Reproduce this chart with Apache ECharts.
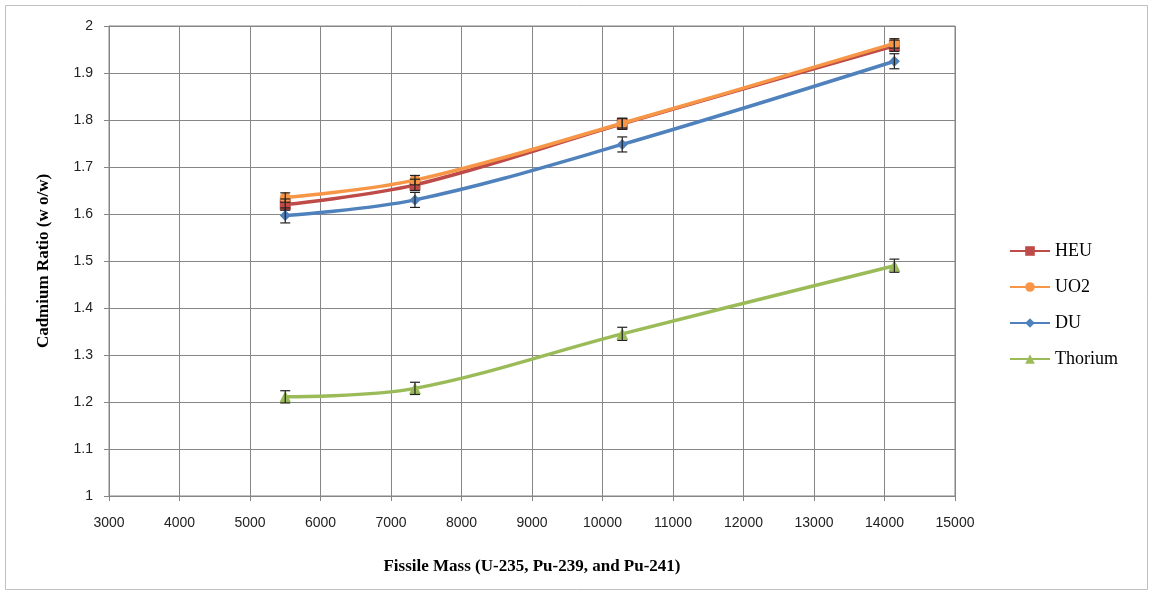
<!DOCTYPE html>
<html><head><meta charset="utf-8">
<script src="https://cdn.jsdelivr.net/npm/echarts@6/dist/echarts.min.js"></script>
<style>html,body{margin:0;padding:0;background:#fff}#c{width:1153px;height:594px}</style>
</head><body><div id="c"></div>
<script>
const fissileMass = [5500, 7340, 10280, 14140];
const heu = [1.620, 1.662, 1.792, 1.958];
const uo2 = [1.635, 1.672, 1.793, 1.963];
const du = [1.597, 1.630, 1.748, 1.925];
const thorium = [1.211, 1.229, 1.345, 1.490];
const errDU = [0.016, 0.016, 0.016, 0.016];
const errTh = [0.013, 0.013, 0.014, 0.014];
const errHEU = [0.012, 0.012, 0.012, 0.012];
const errUO2 = [0.010, 0.010, 0.010, 0.010];
const yTicks = ['1','1.1','1.2','1.3','1.4','1.5','1.6','1.7','1.8','1.9','2'];

const names = ['HEU','UO2','DU','Thorium'];
const colors = ['#BE4B48','#F79646','#4F81BD','#9BBB59'];
const symbols = ['rect','circle','diamond','triangle'];
const vals = [heu, uo2, du, thorium];
const errs = [errHEU, errUO2, errDU, errTh];

const series = [];
names.forEach((n, i) => {
  series.push({
    name: n, type: 'line', smooth: 0.35,
    data: fissileMass.map((x, k) => [x, vals[i][k]]),
    symbol: symbols[i], symbolSize: i === 3 ? 12 : 11,
    lineStyle: {width: 3.5, color: colors[i]},
    itemStyle: {color: colors[i]},
    z: 3 + i
  });
  series.push({
    type: 'custom', name: n + ' err', silent: true, z: 10,
    data: fissileMass.map((x, k) => [x, vals[i][k] - errs[i][k], vals[i][k] + errs[i][k]]),
    renderItem: function (params, api) {
      const lo = api.coord([api.value(0), api.value(1)]);
      const hi = api.coord([api.value(0), api.value(2)]);
      const w = 5;
      const st = {stroke: '#222', lineWidth: 1.2};
      return {type: 'group', children: [
        {type: 'line', shape: {x1: lo[0], y1: lo[1], x2: hi[0], y2: hi[1]}, style: st},
        {type: 'line', shape: {x1: lo[0]-w, y1: lo[1], x2: lo[0]+w, y2: lo[1]}, style: st},
        {type: 'line', shape: {x1: hi[0]-w, y1: hi[1], x2: hi[0]+w, y2: hi[1]}, style: st}
      ]};
    }
  });
});

const chart = echarts.init(document.getElementById('c'));
chart.setOption({
  animation: false,
  backgroundColor: '#fff',
  graphic: [{type: 'rect', shape: {x: 5.5, y: 5.5, width: 1142, height: 584}, style: {fill: 'none', stroke: '#bfbfbf', lineWidth: 1}}],
  grid: {left: 109, right: 198, top: 26, bottom: 98, show: true, borderColor: '#868686', borderWidth: 1},
  xAxis: {
    type: 'value', min: 3000, max: 15000, interval: 1000,
    name: 'Fissile Mass (U-235, Pu-239, and Pu-241)', nameLocation: 'middle', nameGap: 62,
    nameTextStyle: {fontFamily: 'Liberation Serif', fontWeight: 'bold', fontSize: 17, color: '#000'},
    axisLine: {lineStyle: {color: '#868686'}},
    axisTick: {show: true, length: 5, lineStyle: {color: '#868686'}},
    axisLabel: {color: '#222', fontFamily: 'Liberation Sans', fontSize: 14, margin: 20,
      formatter: function (v) { return String(v); }},
    splitLine: {lineStyle: {color: '#868686'}}
  },
  yAxis: {
    type: 'value', min: 1, max: 2, interval: 0.1,
    name: 'Cadmium Ratio (w o/w)', nameLocation: 'middle', nameGap: 57, nameRotate: 90,
    nameTextStyle: {fontFamily: 'Liberation Serif', fontWeight: 'bold', fontSize: 17, color: '#000'},
    axisLine: {show: true, lineStyle: {color: '#868686'}},
    axisTick: {show: true, length: 5, lineStyle: {color: '#868686'}},
    axisLabel: {color: '#222', fontFamily: 'Liberation Sans', fontSize: 14, margin: 16,
      formatter: function (v) { return yTicks[Math.round((v - 1) * 10)]; }},
    splitLine: {lineStyle: {color: '#868686'}}
  },
  legend: {
    data: names, orient: 'vertical', left: 1004, top: 237, itemGap: 18,
    itemWidth: 40, itemHeight: 12,
    textStyle: {fontFamily: 'Liberation Serif', fontSize: 18, color: '#000'}
  },
  series: series
});
</script></body></html>
